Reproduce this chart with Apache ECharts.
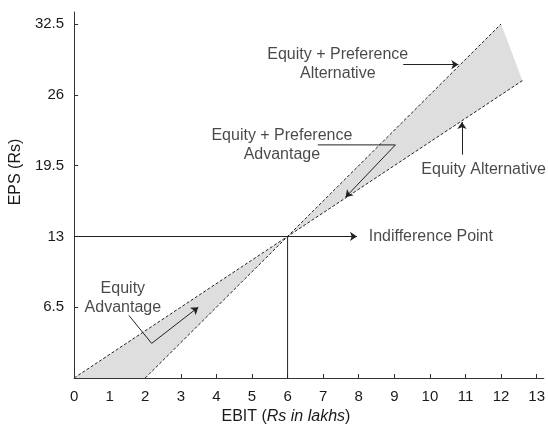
<!DOCTYPE html>
<html>
<head>
<meta charset="utf-8">
<script src="https://cdn.jsdelivr.net/npm/echarts@6/dist/echarts.min.js"></script>
<style>
  html, body { margin: 0; padding: 0; background: #fff; }
  #chart { width: 548px; height: 432px; }
</style>
</head>
<body>
<div id="chart"></div>
<script>
const xTicks = [0, 1, 2, 3, 4, 5, 6, 7, 8, 9, 10, 11, 12, 13];
const yTicks = [6.5, 13, 19.5, 26, 32.5];

// EPS lines (EBIT, EPS)
const equityLine = [[0, 0], [6, 13], [12.6, 27.3]];
const equityPrefLine = [[2, 0], [6, 13], [12, 32.5]];

// shaded advantage areas between the two lines
const shadeAreas = [
  [[0, 0], [2, 0], [6, 13]],
  [[6, 13], [12, 32.5], [12.6, 27.3]],
];

// crosshair at the indifference point
const guideLines = [
  [[6, 0], [6, 13]],
];

// arrows and leaders of the notes, in data units (arrowhead on the last point)
const arrowLines = [
  [[0, 13], [7.95, 13]],
  [[9.25, 28.77], [10.8, 28.77]],
  [[6.85, 21.4], [9.03, 21.4], [7.63, 16.6]],
  [[10.9, 20.5], [10.9, 23.5]],
  [[1.54, 5.75], [2.18, 3.18], [3.49, 6.5]],
];

const notes = [
  { name: "Equity + Preference\nAlternative", value: [7.41, 28.86], align: "center" },
  { name: "Equity + Preference\nAdvantage", value: [5.84, 21.42], align: "center" },
  { name: "Equity Alternative", value: [9.76, 19.13], align: "left" },
  { name: "Indifference Point", value: [8.28, 13], align: "left" },
  { name: "Equity\nAdvantage", value: [1.37, 7.38], align: "center" },
];

const font = "Liberation Sans";
const ink = "#1a1a1a";

// split each leader into plain segments and a final arrowed segment
const plainSegs = guideLines.map((c) => ({ coords: c }));
const arrowSegs = [];
arrowLines.forEach((pts) => {
  if (pts.length > 2) plainSegs.push({ coords: pts.slice(0, -1) });
  arrowSegs.push({ coords: pts.slice(-2) });
});

const chart = echarts.init(document.getElementById("chart"));

chart.setOption({
  animation: false,
  textStyle: { fontFamily: font },
  grid: { left: 74, right: 2, top: 12, bottom: 54 },
  xAxis: {
    type: "value",
    min: 0,
    max: 13.2,
    interval: 1,
    name: "EBIT ({i|Rs in lakhs})",
    nameLocation: "middle",
    nameGap: 27,
    nameTextStyle: {
      color: ink,
      fontSize: 16,
      fontFamily: font,
      padding: [0, 46, 0, 0],
      rich: { i: { fontStyle: "italic", fontSize: 16, fontFamily: font, color: ink } },
    },
    axisLine: { lineStyle: { color: "#333", width: 1 } },
    axisTick: { inside: true, length: 4, customValues: xTicks, lineStyle: { color: "#333" } },
    axisLabel: { customValues: xTicks, color: ink, fontSize: 15, margin: 11 },
    splitLine: { show: false },
  },
  yAxis: {
    type: "value",
    min: 0,
    max: 33.6,
    interval: 6.5,
    name: "EPS (Rs)",
    nameLocation: "middle",
    nameGap: 45,
    nameTextStyle: { color: ink, fontSize: 16, padding: [0, 0, 0, 46] },
    axisLine: { lineStyle: { color: "#333", width: 1 } },
    axisTick: { inside: true, length: 4, customValues: yTicks, lineStyle: { color: "#333" } },
    axisLabel: { customValues: yTicks, color: ink, fontSize: 15, margin: 10 },
    splitLine: { show: false },
  },
  series: [
    {
      type: "custom",
      silent: true,
      data: shadeAreas.map((_, i) => [i]),
      encode: { x: -1, y: -1 },
      renderItem(params, api) {
        const pts = shadeAreas[params.dataIndex].map((p) => api.coord(p));
        return { type: "polygon", shape: { points: pts }, style: { fill: "#dedede" } };
      },
      z: 1,
    },
    {
      name: "Equity Alternative",
      type: "line",
      data: equityLine,
      showSymbol: false,
      silent: true,
      lineStyle: { color: "#222", width: 1, type: [3, 2] },
      z: 3,
    },
    {
      name: "Equity + Preference Alternative",
      type: "line",
      data: equityPrefLine,
      showSymbol: false,
      silent: true,
      lineStyle: { color: "#222", width: 1, type: [3, 2] },
      z: 3,
    },
    {
      type: "lines",
      coordinateSystem: "cartesian2d",
      polyline: true,
      silent: true,
      data: plainSegs,
      lineStyle: { color: "#222", width: 1, opacity: 1 },
      z: 4,
    },
    {
      type: "lines",
      coordinateSystem: "cartesian2d",
      silent: true,
      symbol: ["none", "arrow"],
      symbolSize: 7,
      data: arrowSegs,
      lineStyle: { color: "#222", width: 1, opacity: 1 },
      z: 4,
    },
    {
      type: "scatter",
      silent: true,
      symbolSize: 0,
      data: notes.map((n) => ({
        name: n.name,
        value: n.value,
        label: { align: n.align },
      })),
      label: {
        show: true,
        position: "inside",
        formatter: (p) => p.name,
        color: ink,
        fontSize: 16,
        lineHeight: 19,
        verticalAlign: "middle",
      },
      z: 5,
    },
  ],
});
</script>
</body>
</html>
